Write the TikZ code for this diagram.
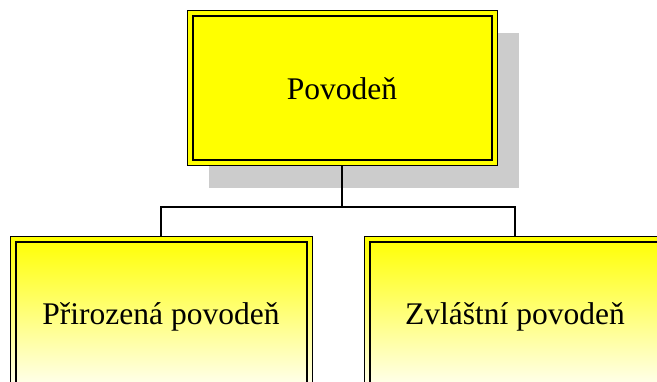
\documentclass[tikz,border=0pt]{standalone}
\usepackage{fontspec}
\setmainfont{Liberation Serif}
\usetikzlibrary{shadows}
\definecolor{boxyellow}{RGB}{255,255,0}
\definecolor{shadowgray}{RGB}{204,204,204}

\begin{document}
\begin{tikzpicture}[
    x=1pt, y=1pt,
    every node/.style={font=\fontsize{31.5}{36}\selectfont, inner sep=0pt, outer sep=0pt},
    topbox/.style={draw, line width=1pt, fill=boxyellow, minimum width=310pt, minimum height=155pt,
      drop shadow={shadow xshift=22pt, shadow yshift=-22pt, fill=shadowgray, opacity=1}},
    childbox/.style={draw, line width=1pt, top color=boxyellow, middle color=boxyellow, bottom color=white,
      minimum width=302pt, minimum height=160pt},
    innerframe/.style={draw, line width=2pt},
    link/.style={draw, line width=1.2pt}
    ]
    \clip (0,0) rectangle (657,382);

    \node[topbox] (flood) at (342,293.5) {Povodeň};
    \draw[innerframe] ([shift={(5.5,-5.5)}]flood.north west) rectangle ([shift={(-5.5,5.5)}]flood.south east);

    \node[childbox] (natural) at (161,65) {\raisebox{5pt}{Přirozená povodeň}};
    \draw[innerframe] ([shift={(5.5,-5.5)}]natural.north west) rectangle ([shift={(-5.5,5.5)}]natural.south east);

    \node[childbox] (special) at (515,65) {\raisebox{5pt}{Zvláštní povodeň}};
    \draw[innerframe] ([shift={(5.5,-5.5)}]special.north west) rectangle ([shift={(-5.5,5.5)}]special.south east);

    \coordinate (bar) at (342,175);
    \path[link] (flood.south) -- (bar);
    \path[link] (natural.north) |- (bar) -| (special.north);

\end{tikzpicture}
\end{document}
